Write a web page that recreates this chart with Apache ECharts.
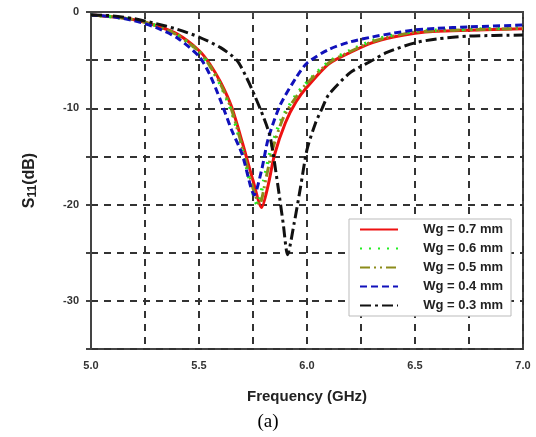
<!DOCTYPE html>
<html><head><meta charset="utf-8">
<script src="https://cdn.jsdelivr.net/npm/echarts@6/dist/echarts.min.js"></script>
<style>html,body{margin:0;padding:0;background:#fff}#c{width:536px;height:437px}</style>
</head><body><div id="c"></div>
<script>
const seriesNames = ['Wg = 0.7 mm','Wg = 0.6 mm','Wg = 0.5 mm','Wg = 0.4 mm','Wg = 0.3 mm'];
const wg07 = [[5.0,-0.3],[5.1,-0.5],[5.2,-0.8],[5.3,-1.4],[5.4,-2.3],[5.5,-4.0],[5.55,-5.4],[5.6,-7.3],[5.65,-9.8],[5.7,-13.5],[5.75,-17.5],[5.79,-20.3],[5.82,-18.0],[5.85,-14.8],[5.9,-11.5],[5.95,-9.3],[6.0,-7.8],[6.1,-5.4],[6.2,-4.2],[6.3,-3.2],[6.4,-2.6],[6.5,-2.2],[6.6,-2.0],[6.75,-1.9],[7.0,-1.75]];
const wg06 = [[5.0,-0.3],[5.1,-0.5],[5.2,-0.8],[5.3,-1.4],[5.4,-2.4],[5.5,-4.1],[5.55,-5.6],[5.6,-7.6],[5.65,-10.3],[5.7,-14.2],[5.74,-18.0],[5.77,-20.0],[5.8,-17.5],[5.83,-14.5],[5.88,-11.2],[5.95,-8.6],[6.0,-7.3],[6.1,-5.2],[6.2,-4.0],[6.3,-3.0],[6.4,-2.4],[6.5,-2.0],[6.6,-1.9],[6.75,-1.8],[7.0,-1.65]];
const wg05 = [[5.0,-0.3],[5.1,-0.5],[5.2,-0.8],[5.3,-1.4],[5.4,-2.4],[5.5,-4.1],[5.55,-5.6],[5.6,-7.5],[5.65,-10.1],[5.7,-14.0],[5.75,-18.3],[5.78,-20.0],[5.81,-17.3],[5.84,-14.3],[5.89,-11.0],[5.95,-8.8],[6.0,-7.4],[6.1,-5.3],[6.2,-4.1],[6.3,-3.1],[6.4,-2.5],[6.5,-2.1],[6.6,-1.95],[6.75,-1.85],[7.0,-1.7]];
const wg04 = [[5.0,-0.3],[5.1,-0.5],[5.2,-0.9],[5.3,-1.6],[5.4,-2.7],[5.5,-4.6],[5.55,-6.5],[5.6,-9.2],[5.65,-12.2],[5.7,-14.8],[5.74,-18.2],[5.755,-19.0],[5.79,-16.4],[5.82,-13.2],[5.875,-9.7],[5.95,-6.8],[6.0,-5.3],[6.1,-3.9],[6.2,-3.1],[6.3,-2.6],[6.4,-2.2],[6.5,-1.85],[6.6,-1.7],[6.75,-1.55],[7.0,-1.35]];
const wg03 = [[5.0,-0.3],[5.1,-0.4],[5.2,-0.7],[5.3,-1.2],[5.4,-1.8],[5.5,-2.6],[5.6,-3.7],[5.675,-5.0],[5.72,-6.8],[5.76,-8.8],[5.8,-11.0],[5.83,-13.0],[5.865,-18.0],[5.89,-22.0],[5.91,-25.2],[5.94,-22.0],[5.97,-18.2],[6.0,-14.3],[6.04,-11.5],[6.07,-10.0],[6.1,-8.6],[6.2,-6.3],[6.28,-5.3],[6.37,-4.2],[6.5,-3.2],[6.6,-2.8],[6.75,-2.5],[7.0,-2.4]];
const xTickLabels = ['5.0','5.5','6.0','6.5','7.0'];
const yTickLabels = ['0','-10','-20','-30'];

const FONT = 'Liberation Sans, Arial, sans-serif';
const chart = echarts.init(document.getElementById('c'), null, {renderer:'canvas'});
function mk(name, data, color, type, width){
  return {name, type:'line', data, symbol:'none', showSymbol:false, smooth:0.25,
    lineStyle:{color, width, type, cap:'butt'}, itemStyle:{color}};
}
chart.setOption({
  animation:false,
  backgroundColor:'#fff',
  grid:{left:91, right:13, top:12, bottom:88, show:true, borderColor:'#444', borderWidth:2, backgroundColor:'transparent'},
  title:{text:'(a)', left:'center', top:408, textStyle:{fontFamily:'Liberation Serif, Times New Roman, serif', fontSize:19, fontWeight:'normal', color:'#000'}},
  legend:{
    data:seriesNames, orient:'vertical', left:349, top:219, width:158,
    itemWidth:38, itemHeight:10, itemGap:6,
    itemStyle:{opacity:0},
    backgroundColor:'#fff', borderColor:'#bbb', borderWidth:1, padding:[4,8,4,10],
    formatter: n => '{t|' + n + '}',
    textStyle:{rich:{t:{fontFamily:FONT, fontSize:13, fontWeight:'bold', color:'#222', width:100, align:'right'}}}
  },
  xAxis:{type:'value', min:5, max:7, interval:0.25,
    name:'Frequency (GHz)', nameLocation:'middle', nameGap:40,
    nameTextStyle:{fontFamily:FONT, fontSize:15, fontWeight:'bold', color:'#222'},
    axisLine:{lineStyle:{color:'#444', width:2}},
    axisTick:{inside:false, length:5, lineStyle:{color:'#444', width:2}},
    axisLabel:{margin:11, fontFamily:FONT, fontSize:11, fontWeight:'bold', color:'#333',
      formatter: v => { const s = v.toFixed(1); return (Math.abs(v*2 - Math.round(v*2))<1e-6 && xTickLabels.includes(s)) ? s : ''; }},
    splitLine:{show:true, lineStyle:{color:'#333', width:2, type:[7,6]}}
  },
  yAxis:{type:'value', min:-35, max:0, interval:5,
    name:'S{s|11}(dB)', nameLocation:'middle', nameGap:52, nameRotate:90,
    nameTextStyle:{fontFamily:FONT, fontSize:16, fontWeight:'bold', color:'#222',
      rich:{s:{fontFamily:FONT, fontSize:12, fontWeight:'bold', color:'#222', verticalAlign:'bottom', padding:[6,0,0,0]}}},
    axisLine:{lineStyle:{color:'#444', width:2}},
    axisTick:{inside:false, length:5, lineStyle:{color:'#444', width:2}},
    axisLabel:{margin:12, fontFamily:FONT, fontSize:11, fontWeight:'bold', color:'#333',
      formatter: v => { const s = String(Math.round(v)); return yTickLabels.includes(s) ? s : ''; }},
    splitLine:{show:true, lineStyle:{color:'#333', width:2, type:[7,6]}}
  },
  series:[
    mk(seriesNames[0], wg07, '#ee1111', 'solid', 3),
    mk(seriesNames[1], wg06, '#22ee22', [2,7], 3.5),
    mk(seriesNames[2], wg05, '#8c8c1a', [10,4,2,4,2,4], 3),
    mk(seriesNames[3], wg04, '#1111bb', [7,4], 3),
    mk(seriesNames[4], wg03, '#111111', [11,4,3,4], 3)
  ]
});
</script></body></html>
